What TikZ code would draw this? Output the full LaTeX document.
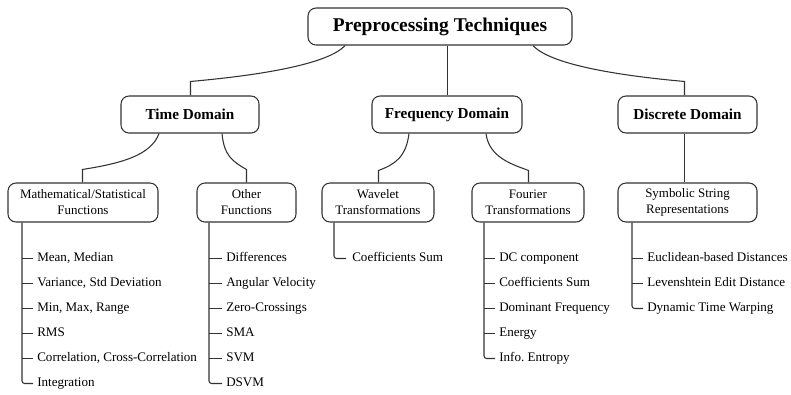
\documentclass[tikz,border=0pt]{standalone}
\usepackage{fontspec}
\setmainfont{Liberation Serif}[Ligatures=TeX]
\newfontfamily\tnr{Liberation Serif}[Ligatures=TeX]
\usetikzlibrary{calc}
\frenchspacing
\begin{document}
\begin{tikzpicture}[x=0.75pt,y=-0.75pt,
  box/.style={draw=black!80, line width=0.8pt, rounded corners=6pt, align=center, inner sep=0pt},
  lvlone/.style={box, font=\tnr\fontsize{14.6}{17}\selectfont\bfseries, minimum width=198pt, minimum height=27.75pt},
  lvltwo/.style={box, font=\tnr\fontsize{11.4}{14}\selectfont\bfseries, minimum height=27.75pt},
  lvlthree/.style={box, font=\tnr\fontsize{9.7}{12}\selectfont, minimum height=29.25pt},
  conn/.style={draw=black!80, line width=0.8pt},
  trunk/.style={conn, rounded corners=2pt},
  item/.style={anchor=west, inner ysep=0pt, inner xsep=3pt, text height=6.8pt, text depth=2pt, font=\tnr\fontsize{9.8}{12}\selectfont}]
\useasboundingbox (0,0) rectangle (791,394);

% boxes
\node[lvlone] (top) at (440,26.5) {Preprocessing Techniques};
\node[lvltwo, minimum width=103.5pt] (time) at (190,114.5) {Time Domain};
\node[lvltwo, minimum width=112.5pt] (freq) at (447,114.5) {Frequency Domain};
\node[lvltwo, minimum width=104.25pt] (disc) at (687.5,114.5) {Discrete Domain};
\node[lvlthree, minimum width=112.5pt] (math) at (83,202.5) {Mathematical/Statistical\\Functions};
\node[lvlthree, minimum width=74.25pt] (other) at (246.5,202.5) {Other\\Functions};
\node[lvlthree, minimum width=84pt] (wave) at (378,202.5) {Wavelet\\Transformations};
\node[lvlthree, minimum width=84pt] (four) at (528,202.5) {Fourier\\Transformations};
\node[lvlthree, minimum width=104.25pt] (sym) at (687.5,202.5) {Symbolic String\\Representations};

% level connectors
\draw[conn] ($(top.south)+(-95,0)$) .. controls +(-20,22) and +(45,-4) .. ($(time.north)+(0.5,-14)$) -- ($(time.north)+(0.5,0)$);
\draw[conn] ($(top.south -| freq.north)+(0.5,0)$) -- ($(freq.north)+(0.5,0)$);
\draw[conn] ($(top.south)+(93,0)$) .. controls +(20,22) and +(-45,-4) .. ($(disc.north)+(-3,-14)$) -- ($(disc.north)+(-3,0)$);

\draw[conn] ($(time.south)+(-31,0)$) .. controls +(-8,22) and +(38,-6) .. ($(math.north)+(-0.5,-13)$) -- ($(math.north)+(-0.5,0)$);
\draw[conn] ($(time.south)+(32,0)$) .. controls +(2,22) and +(-14,-8) .. ($(other.north)+(0,-13)$) -- (other.north);
\draw[conn] ($(freq.south)+(-38,0)$) .. controls +(-3,24) and +(16,-6) .. ($(wave.north)+(0.5,-12)$) -- ($(wave.north)+(0.5,0)$);
\draw[conn] ($(freq.south)+(39,0)$) .. controls +(3,24) and +(-16,-6) .. ($(four.north)+(0.5,-12)$) -- ($(four.north)+(0.5,0)$);
\draw[conn] ($(disc.south)+(-3,0)$) -- ($(sym.north)+(-3,0)$);

% Mathematical/Statistical items
\node[item] (m1) at (33,258.5) {Mean, Median};
\node[item] (m2) at (33,283.5) {Variance, Std Deviation};
\node[item] (m3) at (33,308.5) {Min, Max, Range};
\node[item] (m4) at (33,333.5) {RMS};
\node[item] (m5) at (33,358.5) {Correlation, Cross-Correlation};
\node[item] (m6) at (33,383.5) {Integration};
\coordinate (mt) at ($(math.south west)+(14.5,0)$);
\draw[trunk] (mt) |- (m6.west);
\foreach \i in {1,...,5} \draw[conn] (m\i.west -| mt) -- (m\i.west);

% Other items
\node[item] (o1) at (222,258.5) {Differences};
\node[item] (o2) at (222,283.5) {Angular Velocity};
\node[item] (o3) at (222,308.5) {Zero-Crossings};
\node[item] (o4) at (222,333.5) {SMA};
\node[item] (o5) at (222,358.5) {SVM};
\node[item] (o6) at (222,383.5) {DSVM};
\coordinate (ot) at ($(other.south west)+(12.5,0)$);
\draw[trunk] (ot) |- (o6.west);
\foreach \i in {1,...,5} \draw[conn] (o\i.west -| ot) -- (o\i.west);

% Wavelet items
\node[item, inner xsep=4.5pt] (w1) at (346,258.5) {Coefficients Sum};
\coordinate (wt) at ($(wave.south west)+(12.5,0)$);
\draw[trunk] (wt) |- (w1.west);

% Fourier items
\node[item] (f1) at (495,258.5) {DC component};
\node[item] (f2) at (495,283.5) {Coefficients Sum};
\node[item] (f3) at (495,308.5) {Dominant Frequency};
\node[item] (f4) at (495,333.5) {Energy};
\node[item] (f5) at (495,358.5) {Info. Entropy};
\coordinate (ft) at ($(four.south west)+(12.5,0)$);
\draw[trunk] (ft) |- (f5.west);
\foreach \i in {1,...,4} \draw[conn] (f\i.west -| ft) -- (f\i.west);

% Symbolic items
\node[item] (s1) at (643,258.5) {Euclidean-based Distances};
\node[item] (s2) at (643,283.5) {Levenshtein Edit Distance};
\node[item] (s3) at (643,308.5) {Dynamic Time Warping};
\coordinate (st) at ($(sym.south west)+(14.5,0)$);
\draw[trunk] (st) |- (s3.west);
\foreach \i in {1,2} \draw[conn] (s\i.west -| st) -- (s\i.west);
\end{tikzpicture}
\end{document}
